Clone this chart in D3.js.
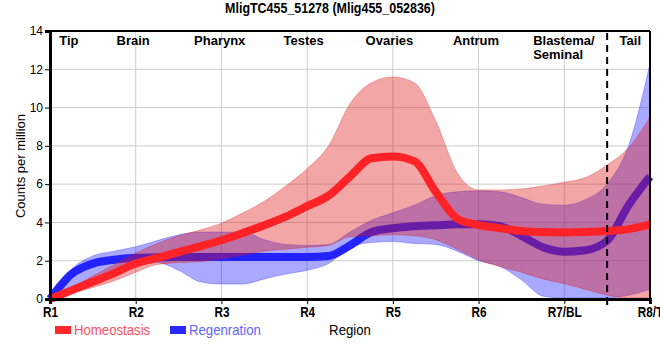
<!DOCTYPE html>
<html>
<head>
<meta charset="utf-8">
<script src="https://cdn.jsdelivr.net/npm/d3@7"></script>
<style>
  html, body { margin: 0; padding: 0; background: #fff; }
  svg { display: block; }
  .narrow { font-family: "Liberation Sans Narrow", "Arial Narrow", "Liberation Sans", Arial, sans-serif; }
  .sans { font-family: "Liberation Sans", Arial, sans-serif; }
</style>
</head>
<body>
<svg id="chart" width="660" height="360"></svg>
<script>
// ---------- data ----------
const title = "MligTC455_51278 (Mlig455_052836)";
const xTickLabels = ["R1", "R2", "R3", "R4", "R5", "R6", "R7/BL", "R8/T"];
const yTicks = [0, 2, 4, 6, 8, 10, 12, 14];
const regionNames = ["Tip", "Brain", "Pharynx", "Testes", "Ovaries", "Antrum", "Blastema/\nSeminal", "Tail"];
const regionAnchor = [0.22, 0.97, 1.98, 2.96, 3.96, 4.97, 5.73, 6.77];
const dashedAt = 6.5;

// sample positions along the region axis (R1 = 0 ... R8/T = 7)
const samplePos = [0, 0.25, 0.5, 0.75, 1, 1.25, 1.5, 1.75, 2, 2.25, 2.5, 2.75, 3, 3.25, 3.5,
  3.75, 4, 4.25, 4.5, 4.75, 5, 5.25, 5.5, 5.75, 6, 6.25, 6.5, 6.75, 7];

const homeoMean = [0, 0.45, 0.9, 1.35, 1.85, 2.15, 2.45, 2.75, 3.07, 3.45, 3.85, 4.3, 4.85, 5.4, 6.4,
  7.35, 7.45, 7.2, 5.6, 4.2, 3.86, 3.7, 3.55, 3.5, 3.48, 3.5, 3.55, 3.65, 3.9];
const homeoUpper = [0, 0.6, 1.2, 1.8, 2.4, 2.9, 3.3, 3.6, 3.96, 4.5, 5.1, 5.9, 6.8, 8.0, 10.2,
  11.3, 11.6, 11.3, 9.3, 6.6, 5.7, 5.7, 5.75, 5.9, 6.1, 6.35, 7.0, 7.9, 9.5];
const homeoLower = [0, 0.3, 0.6, 0.95, 1.4, 1.8, 1.9, 1.95, 2.1, 2.3, 2.5, 2.6, 2.7, 2.8, 3.25,
  3.3, 3.35, 3.3, 3.1, 2.6, 2.05, 1.7, 1.4, 1.05, 0.8, 0.5, 0.2, 0.05, 0.05];

const regenMean = [0, 1.3, 1.85, 2.05, 2.15, 2.18, 2.2, 2.2, 2.2, 2.2, 2.2, 2.2, 2.2, 2.25, 2.8,
  3.5, 3.7, 3.8, 3.85, 3.9, 3.9, 3.8, 3.3, 2.7, 2.47, 2.55, 3.05, 4.9, 6.4];
const regenUpper = [0, 1.55, 2.25, 2.5, 2.73, 3.05, 3.35, 3.5, 3.5, 3.5, 3.1, 2.85, 2.8, 2.85, 3.5,
  4.1, 4.5, 4.9, 5.4, 5.6, 5.65, 5.6, 5.3, 4.95, 4.9, 5.2, 6.0, 8.0, 12.3];
const regenLower = [0, 0.5, 1.0, 1.4, 1.7, 1.9, 1.5, 0.9, 0.78, 0.78, 1.05, 1.3, 1.5, 1.85, 2.7,
  2.95, 3.0, 2.9, 2.85, 2.5, 2.0, 1.7, 1.0, 0.15, 0.05, 0.05, 0.05, 0.2, 0.5];

const seriesNames = ["Homeostasis", "Regenration"];

// ---------- layout ----------
const svg = d3.select("#chart");
const pLeft = 50, pRight = 650, pTop = 31, pBottom = 299;
const x = d3.scaleLinear().domain([0, 7]).range([pLeft, pRight]);
const y = d3.scaleLinear().domain([0, 14]).range([pBottom, pTop]);

const curve = d3.curveMonotoneX;
const pts = (arr) => samplePos.map((p, i) => [p, arr[i]]);
const band = (lo, hi) => samplePos.map((p, i) => ({ p, lo: lo[i], hi: hi[i] }));

const area = d3.area().curve(curve).x(d => x(d.p)).y0(d => y(d.lo)).y1(d => y(d.hi));
const line = d3.line().curve(curve).x(d => x(d[0])).y(d => y(d[1]));

// grid
const grid = svg.append("g");
grid.selectAll(".hg").data(yTicks.filter(v => v > 0 && v < 14)).enter().append("line")
  .attr("x1", pLeft).attr("x2", pRight).attr("y1", d => y(d)).attr("y2", d => y(d))
  .attr("stroke", "#cccccc").attr("stroke-width", 1);
grid.selectAll(".vg").data(d3.range(1, 7)).enter().append("line")
  .attr("x1", d => x(d)).attr("x2", d => x(d)).attr("y1", pTop).attr("y2", pBottom)
  .attr("stroke", "#cccccc").attr("stroke-width", 1);

// bands and lines
const redBand = "rgb(220,20,20)", blueBand = "rgb(30,30,255)";
svg.append("path").datum(band(regenLower, regenUpper)).attr("d", area)
  .attr("fill", blueBand).attr("fill-opacity", 0.38)
  .attr("stroke", blueBand).attr("stroke-opacity", 0.3).attr("stroke-width", 1);
svg.append("path").datum(pts(regenMean)).attr("d", line)
  .attr("fill", "none").attr("stroke", "rgb(35,35,255)").attr("stroke-width", 8);
svg.append("path").datum(band(homeoLower, homeoUpper)).attr("d", area)
  .attr("fill", redBand).attr("fill-opacity", 0.38)
  .attr("stroke", redBand).attr("stroke-opacity", 0.3).attr("stroke-width", 1);
svg.append("path").datum(pts(homeoMean)).attr("d", line)
  .attr("fill", "none").attr("stroke", "rgb(255,35,40)").attr("stroke-width", 8);

// frame
svg.append("line").attr("x1", pLeft).attr("x2", pRight).attr("y1", pTop).attr("y2", pTop)
  .attr("stroke", "#000").attr("stroke-width", 2);
svg.append("line").attr("x1", pRight).attr("x2", pRight).attr("y1", pTop).attr("y2", pBottom)
  .attr("stroke", "#000").attr("stroke-width", 2);

// dashed divider
svg.append("line").attr("x1", x(dashedAt)).attr("x2", x(dashedAt)).attr("y1", pTop + 2).attr("y2", pBottom)
  .attr("stroke", "#000").attr("stroke-width", 2).attr("stroke-dasharray", "7,5");

// y axis
const yAxis = d3.axisLeft(y).tickValues(yTicks).tickSize(5).tickPadding(2);
const gy = svg.append("g").attr("transform", `translate(${pLeft},0)`).call(yAxis);
gy.select(".domain").attr("stroke-width", 3);
gy.selectAll("text").attr("class", "sans").attr("font-size", 12).attr("fill", "#000");

// x axis (condensed bold labels)
const xAxis = d3.axisBottom(x).tickValues(d3.range(0, 8)).tickFormat(i => xTickLabels[i]).tickSize(5).tickPadding(3);
const gx = svg.append("g").attr("transform", `translate(0,${pBottom})`).call(xAxis);
gx.select(".domain").attr("stroke-width", 3);
gx.selectAll(".tick line").attr("stroke-width", 1);
gx.selectAll(".tick text").attr("class", "sans").attr("font-size", 14).attr("font-weight", "bold")
  .attr("fill", "#000").attr("transform", "scale(0.84,1)")
  .attr("x", function () { return 0; });
gx.append("line").attr("x1", x(dashedAt)).attr("x2", x(dashedAt)).attr("y1", 0).attr("y2", 6)
  .attr("stroke", "#000").attr("stroke-width", 2);

// region labels
regionNames.forEach((name, i) => {
  const parts = name.split("\n");
  const t = svg.append("text").attr("class", "sans").attr("font-size", 13).attr("font-weight", "bold")
    .attr("fill", "#000");
  if (parts.length === 1) {
    t.attr("x", x(regionAnchor[i])).attr("y", 45).attr("text-anchor", "middle").text(name);
  } else {
    t.attr("x", x(regionAnchor[i]) - 8).attr("y", 45).attr("text-anchor", "start");
    parts.forEach((p, k) => t.append("tspan").attr("x", x(regionAnchor[i]) - 8).attr("dy", k === 0 ? 0 : 14).text(p));
  }
});

// title (condensed bold)
svg.append("text").attr("class", "sans").attr("transform", "translate(330,13) scale(0.89,1)")
  .attr("text-anchor", "middle").attr("font-size", 14).attr("font-weight", "bold").text(title);

// y label
svg.append("text").attr("class", "sans").attr("transform", "translate(25,166) rotate(-90)")
  .attr("text-anchor", "middle").attr("font-size", 13).text("Counts per million");

// x label
svg.append("text").attr("class", "sans").attr("transform", "translate(350,335) scale(0.88,1)")
  .attr("text-anchor", "middle").attr("font-size", 15).text("Region");

// legend
const legend = [
  { name: seriesNames[0], sw: "rgb(255,40,45)", tc: "rgb(255,80,95)", x: 55 },
  { name: seriesNames[1], sw: "rgb(40,40,255)", tc: "rgb(100,100,255)", x: 170 }
];
legend.forEach(l => {
  svg.append("rect").attr("x", l.x).attr("y", 326).attr("width", 16).attr("height", 8).attr("fill", l.sw);
  svg.append("text").attr("class", "sans").attr("transform", `translate(${l.x + 19},335) scale(0.88,1)`)
    .attr("font-size", 15).attr("fill", l.tc).text(l.name);
});
</script>
</body>
</html>
